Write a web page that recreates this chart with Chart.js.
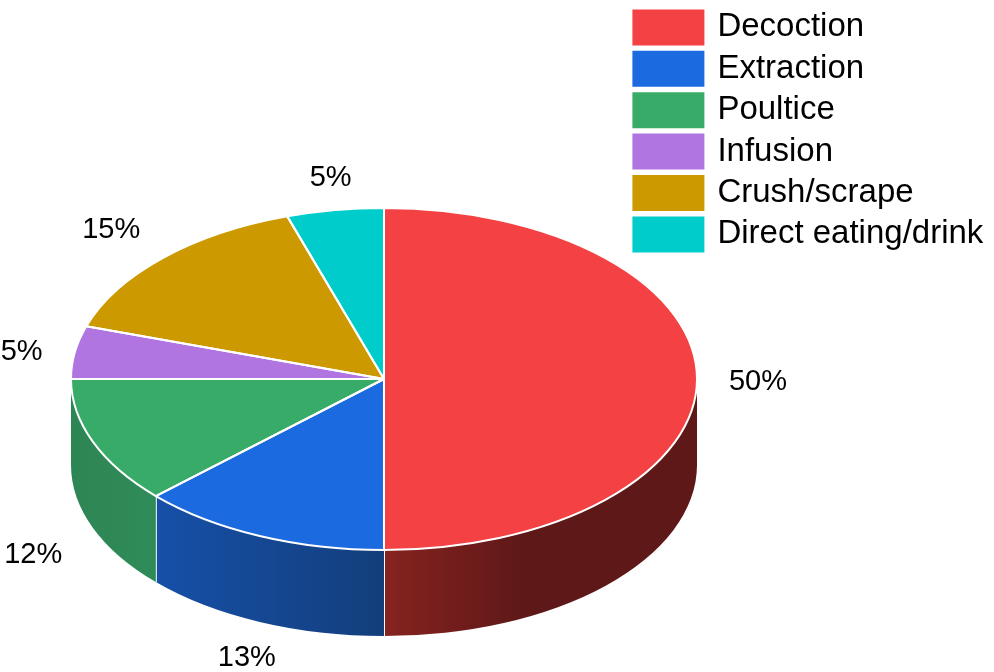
<!DOCTYPE html>
<html>
<head>
<meta charset="utf-8">
<style>
  html, body { margin: 0; padding: 0; background: #fff; }
  canvas { display: block; }
</style>
<script src="https://cdn.jsdelivr.net/npm/chart.js@4"></script>
</head>
<body>
<canvas id="chart" width="994" height="672"></canvas>
<script>
var categories = ['Decoction', 'Extraction', 'Poultice', 'Infusion', 'Crush/scrape', 'Direct eating/drink']
var shares = [50, 13, 12, 5, 15, 5]
var topColors = ['#f44144', '#1b6adf', '#38ab69', '#b075e0', '#cc9900', '#00cccc']

// side wall shades, left end then right end
var wallLeft = ['#86231f', '#1650a8', '#2e8554', '#7a4f9e', '#8f6b00', '#008f8f']
var wallRight = ['#5e1818', '#133e7c', '#2f8c58', '#5d3c7a', '#6d5200', '#006d6d']

// pie is squashed into an ellipse with a wall under it
var centerX = 384
var centerY = 379
var radiusX = 313
var radiusY = 171
var depth = 86

// small shifts for the percent labels
var nudgeX = [1, 11, -4, 6, -9, 5]
var nudgeY = [3, 4, 14, 5, -3, 2]

var pie3d = {
    id: 'pie3d',
    afterLayout: function (chart) {
        chart.legend.left = 627.5
        chart.legend.top = 2.5
    },
    beforeDatasetsDraw: function (chart) {
        var ctx = chart.ctx
        var arcs = chart.getDatasetMeta(0).data

        ctx.save()
        arcs.forEach(function (arc, i) {
            // only the part in the front half shows
            var a0 = Math.max(arc.startAngle, 0)
            var a1 = Math.min(arc.endAngle, Math.PI)
            if (a1 <= a0) return

            var x0 = centerX + radiusX * Math.cos(a1)
            var x1 = centerX + radiusX * Math.cos(a0)
            var grad = ctx.createLinearGradient(x0, 0, x1, 0)
            grad.addColorStop(0, wallLeft[i])
            grad.addColorStop(i === 0 ? 0.45 : 1, wallRight[i])
            if (i === 0) grad.addColorStop(1, wallRight[i])

            ctx.beginPath()
            ctx.ellipse(centerX, centerY, radiusX, radiusY, 0, a0, a1)
            ctx.ellipse(centerX, centerY + depth, radiusX, radiusY, 0, a1, a0, true)
            ctx.closePath()
            ctx.fillStyle = grad
            ctx.fill()

            if (a1 < Math.PI) {
                var ex = centerX + radiusX * Math.cos(a1)
                var ey = centerY + radiusY * Math.sin(a1)
                ctx.beginPath()
                ctx.moveTo(ex, ey)
                ctx.lineTo(ex, ey + depth)
                ctx.strokeStyle = '#fff'
                ctx.lineWidth = 2
                ctx.stroke()
            }
        })
        ctx.restore()

        var first = arcs[0]
        ctx.save()
        ctx.translate(centerX, centerY)
        ctx.scale(1, radiusY / radiusX)
        ctx.translate(-first.x, -first.y)
    },
    afterDatasetsDraw: function (chart) {
        var ctx = chart.ctx
        var arcs = chart.getDatasetMeta(0).data
        ctx.restore()

        // outlines go here so the squash does not thin them
        ctx.save()
        ctx.strokeStyle = '#fff'
        ctx.lineWidth = 2
        ctx.lineJoin = 'round'
        arcs.forEach(function (arc) {
            ctx.beginPath()
            ctx.moveTo(centerX, centerY)
            ctx.ellipse(centerX, centerY, radiusX, radiusY, 0, arc.startAngle, arc.endAngle)
            ctx.closePath()
            ctx.stroke()
        })
        ctx.restore()

        ctx.save()
        ctx.font = '29px "Liberation Sans"'
        ctx.fillStyle = '#000'
        ctx.textAlign = 'center'
        ctx.textBaseline = 'middle'
        arcs.forEach(function (arc, i) {
            var mid = (arc.startAngle + arc.endAngle) / 2
            var x = centerX + (radiusX + 60) * Math.cos(mid) + nudgeX[i]
            var y = centerY + (radiusY + 35) * Math.sin(mid) + nudgeY[i]
            if (Math.sin(mid) > 0.01) y += depth
            ctx.fillText(shares[i] + '%', x, y)
        })
        ctx.restore()
    }
}

var pieChart = new Chart(document.getElementById('chart').getContext('2d'), {
    type: 'pie',
    data: {
        labels: categories,
        datasets: [{
            data: shares,
            backgroundColor: topColors,
            borderWidth: 0,
            radius: radiusX,
            clip: false
        }]
    },
    options: {
        responsive: false,
        animation: false,
        plugins: {
            tooltip: { enabled: false },
            legend: {
                position: 'right',
                align: 'start',
                labels: {
                    boxWidth: 65,
                    boxHeight: 29,
                    padding: 8.4,
                    color: '#000',
                    font: { family: '"Liberation Sans"', size: 33 },
                    generateLabels: function (chart) {
                        return Chart.overrides.pie.plugins.legend.labels.generateLabels(chart).map(function (item) {
                            item.strokeStyle = item.fillStyle
                            item.lineWidth = 7
                            return item
                        })
                    }
                }
            }
        }
    },
    plugins: [pie3d]
})
</script>
</body>
</html>
